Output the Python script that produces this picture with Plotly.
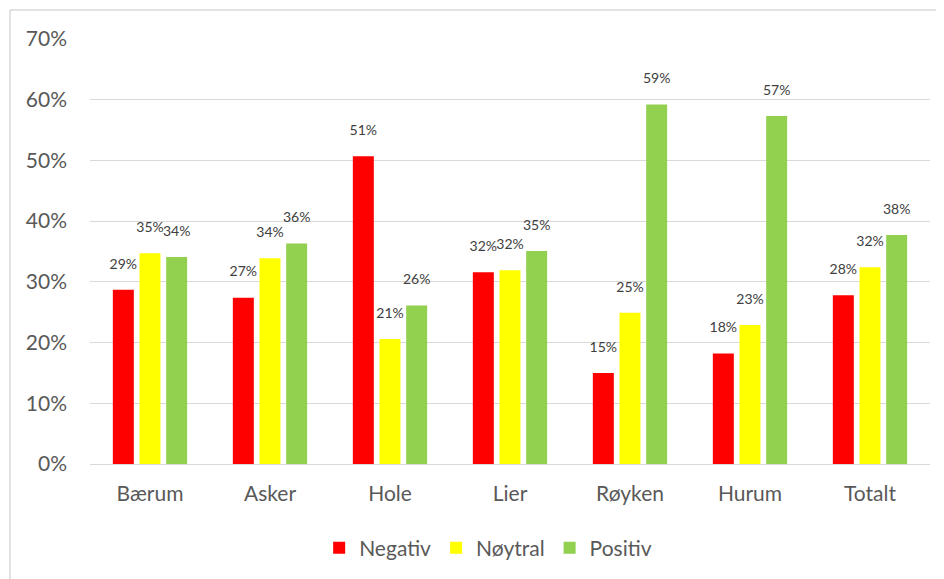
import plotly.graph_objects as go

categories = ["Bærum", "Asker", "Hole", "Lier", "Røyken", "Hurum", "Totalt"]
negativ = [0.287, 0.274, 0.507, 0.316, 0.150, 0.182, 0.278]
noytral = [0.347, 0.339, 0.206, 0.319, 0.249, 0.229, 0.324]
positiv = [0.341, 0.363, 0.261, 0.351, 0.592, 0.573, 0.377]
y_ticks = [0, 0.1, 0.2, 0.3, 0.4, 0.5, 0.6, 0.7]

series = [("Negativ", negativ, "#ff0000"),
          ("Nøytral", noytral, "#ffff00"),
          ("Positiv", positiv, "#92d050")]

FONT = "Lato, Carlito, Calibri, sans-serif"

fig = go.Figure()
for name, vals, col in series:
    fig.add_trace(go.Bar(
        x=categories, y=vals, name=name,
        marker=dict(color=col, line=dict(width=0)),
        texttemplate="%{y:.0%}<br><span style='font-size:2px'> </span>",
        textposition="outside",
        constraintext="none",
        cliponaxis=False,
        textfont=dict(family=FONT, size=14, color="#404040"),
    ))

fig.update_layout(
    width=936, height=571,
    paper_bgcolor="white", plot_bgcolor="white",
    margin=dict(l=82, r=14, t=31, b=115, autoexpand=False),
    barmode="group", bargap=1/3, bargroupgap=0.213,
    font=dict(family=FONT, color="#595959"),
    showlegend=True,
    legend=dict(orientation="h", x=0.474, xanchor="center", y=-0.198, yanchor="middle",
                font=dict(family=FONT, size=21, color="#595959"),
                itemwidth=30, traceorder="normal"),
    xaxis=dict(showgrid=False, showline=True, linecolor="#d9d9d9", linewidth=1,
               tickfont=dict(family=FONT, size=21, color="#595959"),
               ticks="", ticklabelstandoff=11, automargin=False),
    yaxis=dict(range=[0, 0.7], tickvals=y_ticks, tickformat=".0%",
               showgrid=True, gridcolor="#d9d9d9", gridwidth=1, zeroline=False,
               tickfont=dict(family=FONT, size=21, color="#595959"),
               ticks="", ticklabelstandoff=22, automargin=False),
    shapes=[
        dict(type="line", xref="paper", yref="paper", x0=-0.0952, x1=1.03, y0=1.0682, y1=1.0682,
             line=dict(color="#d9d9d9", width=1.5)),
        dict(type="line", xref="paper", yref="paper", x0=-0.0952, x1=-0.0952, y0=1.0682, y1=-0.28,
             line=dict(color="#d9d9d9", width=1.5)),
    ],
)

fig.write_html("out.html")
